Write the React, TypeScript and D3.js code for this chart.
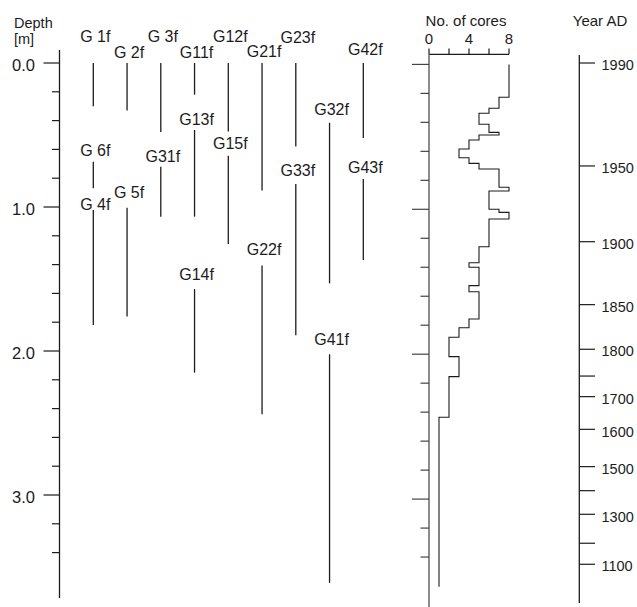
import * as d3 from 'd3';

// core columns, names and depth ranges (m)
const coreNames = ['G 1f', 'G 2f', 'G 3f', 'G11f', 'G12f', 'G21f', 'G23f', 'G42f', 'G13f', 'G31f', 'G 6f', 'G 5f', 'G 4f', 'G14f', 'G15f', 'G32f', 'G33f', 'G43f', 'G22f', 'G41f'];
const coreColumn = [0, 1, 2, 3, 4, 5, 6, 8, 3, 2, 0, 1, 0, 3, 4, 7, 6, 8, 5, 7];
const coreTop = [0, 0, 0, 0, 0, 0, 0, 0, 0.465, 0.72, 0.685, 1.005, 1.02, 1.57, 0.644, 0.415, 0.84, 0.805, 1.407, 2.023];
const coreBottom = [0.3, 0.33, 0.48, 0.22, 0.475, 0.885, 0.58, 0.52, 1.067, 1.067, 0.87, 1.76, 1.82, 2.15, 1.257, 1.53, 1.89, 1.368, 2.44, 3.61];

// number of cores per depth interval
const stepDepths = [0, 0.227, 0.303, 0.337, 0.413, 0.469, 0.487, 0.522, 0.584, 0.644, 0.683, 0.722, 0.848, 0.874, 1.0, 1.021, 1.067, 1.258, 1.369, 1.4, 1.527, 1.569, 1.757, 1.817, 1.883, 2.017, 2.155, 2.435, 3.605];
const stepCounts = [8, 7, 6, 5, 6, 7, 5, 4, 3, 4, 5, 7, 8, 6, 7, 8, 6, 5, 4, 5, 4, 5, 4, 3, 2, 3, 2, 1];

// age scale
const years = [1990, 1950, 1900, 1850, 1800, 1750, 1700, 1600, 1500, 1400, 1300, 1200, 1100];
const yearDepths = [0, 0.715, 1.241, 1.678, 1.988, 2.174, 2.317, 2.544, 2.803, 2.97, 3.134, 3.335, 3.481];
const unlabeledYears = [1750, 1400, 1200];

const depthTicks = d3.range(0, 3.41, 0.2);
const coreTicks = [0, 2, 4, 6, 8];
const coreTickLabels = [0, 4, 8];

// label centres (px) for the staggered core names
const labelY: Record<string, number> = {
  'G 1f': 36, 'G 2f': 52.5, 'G 3f': 36, 'G11f': 52.5, 'G12f': 36.5, 'G21f': 51.5, 'G23f': 37.5, 'G42f': 49,
  'G13f': 119, 'G31f': 156, 'G 6f': 150.5, 'G 5f': 192.5, 'G 4f': 204, 'G14f': 274, 'G15f': 143.5,
  'G32f': 109, 'G33f': 170.5, 'G43f': 167.5, 'G22f': 249, 'G41f': 339,
};

const W = 637;
const H = 607;
const FONT = 'Arial, "Liberation Sans", Helvetica, sans-serif';
const INK = '#1c1c1c';

export default function App() {
  const y = d3.scaleLinear().domain([0, 3]).range([63, 495]);
  const yMid = d3.scaleLinear().domain([0, 3]).range([64.4, 499.1]);
  const xCol = d3.scalePoint<number>().domain(d3.range(9)).range([93.3, 363.3]);
  const xCount = d3.scaleLinear().domain([0, 8]).range([429, 509]);

  const stepPts: [number, number][] = [];
  stepCounts.forEach((c, i) => {
    stepPts.push([xCount(c), yMid(stepDepths[i])]);
    stepPts.push([xCount(c), yMid(stepDepths[i + 1])]);
  });
  const stepLine = d3.line<[number, number]>().x(d => d[0]).y(d => d[1]);

  const isMajor = (t: number) => Math.abs(t - Math.round(t)) < 1e-6;

  return (
    <svg width={W} height={H} style={{ position: 'absolute', left: 0, top: 0, background: '#fff' }}
      fontFamily={FONT}>
      {/* depth axis */}
      <text x={14} y={27.5} fontSize={14.5} fill={INK}>Depth</text>
      <text x={14} y={44} fontSize={14.5} fill={INK}>[m]</text>
      <line x1={59.5} x2={59.5} y1={50} y2={598} stroke={INK} strokeWidth={1.3} />
      {depthTicks.map(t => (
        <g key={'d' + t}>
          <line x1={isMajor(t) ? 43.5 : 52} x2={59.5} y1={y(t)} y2={y(t)} stroke={INK} strokeWidth={1.2} />
          {isMajor(t) && (
            <text x={35} y={y(t) + 2} dy="0.36em" textAnchor="end" fontSize={16.5} fill={INK}>{t.toFixed(1)}</text>
          )}
        </g>
      ))}

      {/* cores */}
      {coreNames.map((name, i) => {
        const cx = xCol(coreColumn[i]) as number;
        return (
          <g key={name}>
            <line x1={cx} x2={cx} y1={y(coreTop[i])} y2={y(coreBottom[i])} stroke={INK} strokeWidth={1.3} />
            <text x={cx + 2} y={labelY[name]} dy="0.36em" textAnchor="middle" fontSize={16} fill={INK}>{name}</text>
          </g>
        );
      })}

      {/* number of cores panel */}
      <text x={466} y={26} textAnchor="middle" fontSize={15} fill={INK}>No. of cores</text>
      <line x1={xCount(0)} x2={xCount(8)} y1={54.3} y2={54.3} stroke={INK} strokeWidth={1.2} />
      {coreTicks.map(t => (
        <line key={'c' + t} x1={xCount(t)} x2={xCount(t)} y1={48.5} y2={54.3} stroke={INK} strokeWidth={1.2} />
      ))}
      {coreTickLabels.map(t => (
        <text key={'cl' + t} x={xCount(t)} y={43.5} textAnchor="middle" fontSize={15} fill={INK}>{t}</text>
      ))}
      <line x1={429} x2={429} y1={54.3} y2={607} stroke="#666" strokeWidth={1.5} />
      {depthTicks.map(t => (
        <line key={'m' + t} x1={isMajor(t) ? 412 : 420.5} x2={429} y1={yMid(t)} y2={yMid(t)} stroke="#444" strokeWidth={1.2} />
      ))}
      <path d={stepLine(stepPts) ?? ''} fill="none" stroke={INK} strokeWidth={1.1} />

      {/* year axis */}
      <text x={600} y={26} textAnchor="middle" fontSize={15} fill={INK}>Year AD</text>
      <line x1={579.3} x2={579.3} y1={55} y2={603} stroke={INK} strokeWidth={1.3} />
      {years.map((yr, i) => (
        <g key={'y' + yr}>
          <line x1={579.3} x2={595} y1={y(yearDepths[i])} y2={y(yearDepths[i])} stroke={INK} strokeWidth={1.2} />
          {!unlabeledYears.includes(yr) && (
            <text x={601.5} y={y(yearDepths[i]) + 2} dy="0.36em" fontSize={14.5} fill={INK}>{yr}</text>
          )}
        </g>
      ))}
    </svg>
  );
}
